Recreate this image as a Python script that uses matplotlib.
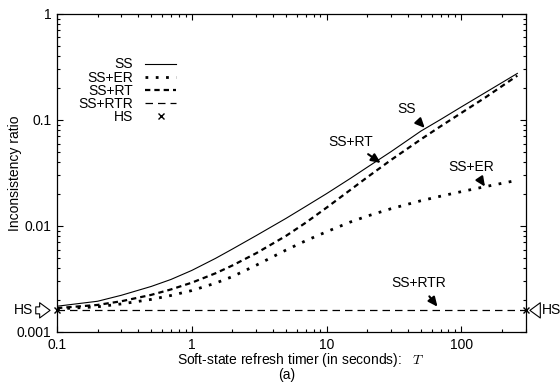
import numpy as np
import matplotlib
matplotlib.use("Agg")
import matplotlib.pyplot as plt
from matplotlib.ticker import LogLocator, NullFormatter, FixedLocator, FixedFormatter

plt.rcParams['font.family'] = ['Liberation Sans', 'DejaVu Sans']
plt.rcParams['mathtext.fontset'] = 'cm'

# refresh timer T (seconds)
timer = [0.1, 0.2, 0.3, 0.5, 0.7, 1, 1.5, 2, 3, 5, 7, 10, 15, 20, 30, 50, 70, 100, 150, 260]

# inconsistency ratio
ss = [0.00175, 0.00195, 0.00222, 0.00269, 0.00313, 0.00381, 0.00495, 0.00606, 0.00811, 0.0118,
      0.0153, 0.0202, 0.0281, 0.0358, 0.0502, 0.0785, 0.101, 0.133, 0.181, 0.275]
ss_er = [0.00165, 0.00173, 0.00184, 0.00203, 0.00221, 0.00246, 0.00289, 0.00333, 0.00426, 0.00593,
         0.00726, 0.00883, 0.0109, 0.0124, 0.01455, 0.0173, 0.0191, 0.0211, 0.0235, 0.027]
ss_rt = [0.00168, 0.0018, 0.00195, 0.00224, 0.00252, 0.00292, 0.00358, 0.00424, 0.00553, 0.00807,
         0.01074, 0.0149, 0.0219, 0.0288, 0.0419, 0.0656, 0.0871, 0.1167, 0.1626, 0.262]
rtr_x = [0.1, 300]
rtr_y = [0.0016, 0.0016]
hs_x = [0.1, 300]
hs_y = [0.0016, 0.0016]

FS = 10

fig = plt.figure(figsize=(5.6, 3.82), dpi=100)
ax = fig.add_axes([0.1018, 0.1309, 0.8370, 0.8325])

ax.plot(timer, ss, color='black', lw=0.8, label='SS')
ax.plot(timer, ss_er, color='black', lw=2.0, linestyle=(0, (1, 2.7)),
        dash_capstyle='butt', label='SS+ER')
ax.plot(timer, ss_rt, color='black', lw=1.6, linestyle=(0, (2.4, 1.8)),
        dash_capstyle='butt', label='SS+RT')
ax.plot(rtr_x, rtr_y, color='black', lw=0.9, linestyle=(0, (6, 4)),
        label='SS+RTR')
ax.plot(hs_x, hs_y, linestyle='none', marker='x', color='black', ms=5,
        mew=1.0, clip_on=False, zorder=5, label='HS')

ax.set_xscale('log')
ax.set_yscale('log')
ax.set_xlim(0.1, 300)
ax.set_ylim(0.001, 1)

ax.xaxis.set_major_locator(FixedLocator([0.1, 1, 10, 100]))
ax.xaxis.set_major_formatter(FixedFormatter(['0.1', '1', '10', '100']))
ax.yaxis.set_major_locator(FixedLocator([0.001, 0.01, 0.1, 1]))
ax.yaxis.set_major_formatter(FixedFormatter(['0.001', '0.01', '0.1', '1']))
ax.xaxis.set_minor_locator(LogLocator(base=10, subs=np.arange(2, 10)))
ax.yaxis.set_minor_locator(LogLocator(base=10, subs=np.arange(2, 10)))
ax.xaxis.set_minor_formatter(NullFormatter())
ax.yaxis.set_minor_formatter(NullFormatter())
ax.tick_params(which='both', direction='in', top=True, right=True,
               labelsize=FS, width=0.8)
ax.tick_params(which='major', length=4.5, pad=4)
ax.tick_params(which='minor', length=2.5)
for sp in ax.spines.values():
    sp.set_linewidth(0.9)

fig.text(15 / 560, 1 - 173 / 382, 'Inconsistency ratio', fontsize=FS,
         rotation=90, ha='center', va='center')
fig.text(301 / 560, 1 - 360 / 382, 'Soft-state refresh timer (in seconds):   $T$',
         fontsize=FS, ha='center', va='center')
fig.text(287 / 560, 1 - 375 / 382, '(a)', fontsize=FS, ha='center', va='center')

leg = ax.legend(loc='upper left', bbox_to_anchor=(0.030, 0.885), frameon=False,
                markerfirst=False, fontsize=FS, handlelength=2.2,
                handletextpad=0.9, labelspacing=-0.06, borderpad=0)
for t in leg.get_texts():
    t.set_ha('right')

arrow = dict(arrowstyle='-|>,head_length=0.55,head_width=0.25', color='black',
             lw=1.5, shrinkA=3, shrinkB=0)
ax.annotate('SS', xy=(53.5, 0.084), xytext=(39.4, 0.127), fontsize=FS,
            ha='center', va='center', arrowprops=arrow)
ax.annotate('SS+RT', xy=(25.2, 0.0393), xytext=(15.1, 0.062), fontsize=FS,
            ha='center', va='center', arrowprops=arrow)
ax.annotate('SS+ER', xy=(149.6, 0.0235), xytext=(119, 0.0363), fontsize=FS,
            ha='center', va='center', arrowprops=arrow)
ax.annotate('SS+RTR', xy=(66.5, 0.00173), xytext=(48.5, 0.00288), fontsize=FS,
            ha='center', va='center', arrowprops=arrow)

hollow = dict(arrowstyle='simple,head_length=0.75,head_width=1.1,tail_width=0.5',
              fc='white', ec='black', lw=0.8, shrinkA=0, shrinkB=5,
              mutation_scale=10)
ax.annotate('HS', xy=(0.1, 0.0016), xytext=(-17.3, 0), textcoords='offset points',
            ha='right', va='center', fontsize=FS, arrowprops=hollow,
            annotation_clip=False)
hollow_r = dict(hollow, shrinkB=3)
ax.annotate('HS', xy=(300, 0.0016), xytext=(11.7, 0), textcoords='offset points',
            ha='left', va='center', fontsize=FS, arrowprops=hollow_r,
            annotation_clip=False)

fig.savefig('out.png', dpi=100)
